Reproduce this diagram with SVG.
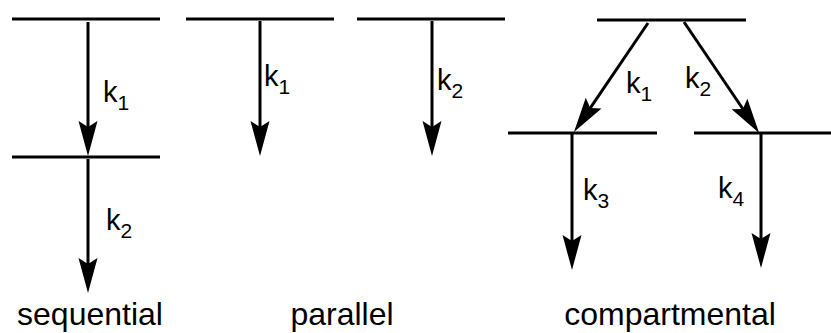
<svg xmlns="http://www.w3.org/2000/svg" width="831" height="333" viewBox="0 0 831 333">
  <style>
    .level { stroke: #000; stroke-width: 3; fill: none; }
    .rate { stroke: #000; stroke-width: 3; fill: none; marker-end: url(#head); }
    text { font-family: "Liberation Sans", Arial, sans-serif; fill: #000; }
    .k { font-size: 29px; }
    .sub { font-size: 21px; }
    .title { font-size: 32px; text-anchor: middle; }
  </style>
  <defs>
    <marker id="head" markerUnits="userSpaceOnUse" orient="auto" markerWidth="40" markerHeight="24" refX="0" refY="0" viewBox="-25 -12 40 24" overflow="visible">
      <path d="M12,0 L-23,-9.5 L-17,0 L-23,9.5 Z" fill="#000"/>
    </marker>
  </defs>

  <!-- energy levels -->
  <g id="seq-top"><line class="level" x1="12" y1="19" x2="160" y2="19"/></g>
  <g id="seq-mid"><line class="level" x1="12" y1="157" x2="160" y2="157"/></g>
  <g id="par-a"><line class="level" x1="186" y1="19" x2="334" y2="19"/></g>
  <g id="par-b"><line class="level" x1="357" y1="19" x2="505" y2="19"/></g>
  <g id="comp-top"><line class="level" x1="597" y1="20" x2="746" y2="20"/></g>
  <g id="comp-left"><line class="level" x1="508" y1="133" x2="657" y2="133"/></g>
  <g id="comp-right"><line class="level" x1="694" y1="133" x2="831" y2="133"/></g>

  <!-- rate arrows -->
  <g id="connectors">
    <line class="rate" x1="88" y1="22" x2="88" y2="144"/>
    <line class="rate" x1="88" y1="159" x2="88" y2="281"/>
    <line class="rate" x1="260" y1="21" x2="260" y2="144"/>
    <line class="rate" x1="432" y1="21" x2="432" y2="144"/>
    <line class="rate" x1="648" y1="23" x2="580.7" y2="122.1"/>
    <line class="rate" x1="684" y1="22" x2="752.4" y2="123"/>
    <line class="rate" x1="572" y1="134" x2="572" y2="258"/>
    <line class="rate" x1="761" y1="134" x2="761" y2="256"/>
  </g>

  <!-- rate constants -->
  <g id="labels">
    <text class="k" x="103" y="102">k<tspan class="sub" dy="8">1</tspan></text>
    <text class="k" x="106" y="230">k<tspan class="sub" dy="8">2</tspan></text>
    <text class="k" x="264" y="86">k<tspan class="sub" dy="8">1</tspan></text>
    <text class="k" x="437" y="90">k<tspan class="sub" dy="8">2</tspan></text>
    <text class="k" x="626" y="93">k<tspan class="sub" dy="8">1</tspan></text>
    <text class="k" x="685" y="88">k<tspan class="sub" dy="8">2</tspan></text>
    <text class="k" x="583" y="200">k<tspan class="sub" dy="8">3</tspan></text>
    <text class="k" x="718" y="198">k<tspan class="sub" dy="8">4</tspan></text>
  </g>

  <!-- scheme names -->
  <g id="titles">
    <text class="title" x="90" y="325">sequential</text>
    <text class="title" x="342" y="325">parallel</text>
    <text class="title" x="670" y="325">compartmental</text>
  </g>
</svg>
